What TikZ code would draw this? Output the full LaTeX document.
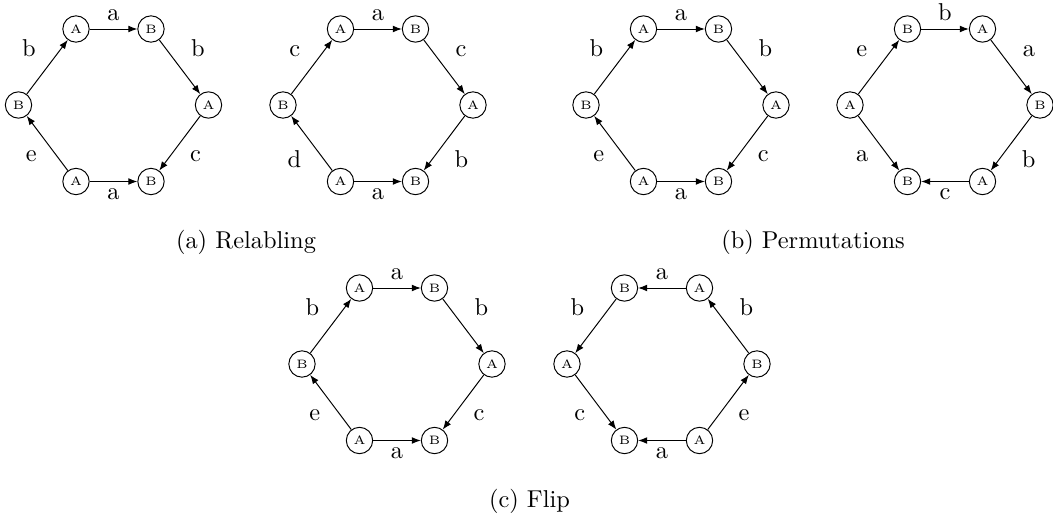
\documentclass[tikz,border=0pt]{standalone}
\usetikzlibrary{arrows.meta}
\tikzset{
  st/.style={circle,draw,minimum size=10.8pt,inner sep=0pt,font=\tiny},
  arr/.style={-{Latex[length=3.7pt,width=2.8pt]},line width=0.4pt},
  lab/.style={inner sep=0pt,font=\normalsize},
  lt/.style={lab,anchor=south,shift={(0,-8)}},
  lb/.style={lab,anchor=north,shift={(0,7)}},
  lul/.style={lab,anchor=south east,shift={(-11,-10)}},
  lur/.style={lab,anchor=south west,shift={(11,-10)}},
  lll/.style={lab,anchor=north east,shift={(-10,7)}},
  llr/.style={lab,anchor=north west,shift={(10,7)}},
  captxt/.style={font=\normalsize,inner sep=0pt}
}
\begin{document}
\begin{tikzpicture}[x=0.41pt,y=-0.41pt]
\useasboundingbox (0,0) rectangle (1053,517);
% Hex 1
\node[st] (aTL) at (76,29) {A};
\node[st] (aTR) at (151,29) {B};
\node[st] (aL) at (18.5,105) {B};
\node[st] (aR) at (208.5,105) {A};
\node[st] (aBL) at (76,181.5) {A};
\node[st] (aBR) at (151,181.5) {B};
\draw[arr] (aTL) -- node[lt] {a} (aTR);
\draw[arr] (aTR) -- node[lur] {b} (aR);
\draw[arr] (aR) -- node[llr] {c} (aBR);
\draw[arr] (aBL) -- node[lb] {a} (aBR);
\draw[arr] (aBL) -- node[lll] {e} (aL);
\draw[arr] (aL) -- node[lul] {b} (aTL);
% Hex 2
\node[st] (bTL) at (340.5,29) {A};
\node[st] (bTR) at (415.5,29) {B};
\node[st] (bL) at (283,105) {B};
\node[st] (bR) at (473,105) {A};
\node[st] (bBL) at (340.5,181.5) {A};
\node[st] (bBR) at (415.5,181.5) {B};
\draw[arr] (bTL) -- node[lt] {a} (bTR);
\draw[arr] (bTR) -- node[lur] {c} (bR);
\draw[arr] (bR) -- node[llr] {b} (bBR);
\draw[arr] (bBL) -- node[lb] {a} (bBR);
\draw[arr] (bBL) -- node[lll] {d} (bL);
\draw[arr] (bL) -- node[lul] {c} (bTL);
% Hex 3
\node[st] (cTL) at (643.5,29) {A};
\node[st] (cTR) at (718.5,29) {B};
\node[st] (cL) at (586,105) {B};
\node[st] (cR) at (776,105) {A};
\node[st] (cBL) at (643.5,181.5) {A};
\node[st] (cBR) at (718.5,181.5) {B};
\draw[arr] (cTL) -- node[lt] {a} (cTR);
\draw[arr] (cTR) -- node[lur] {b} (cR);
\draw[arr] (cR) -- node[llr] {c} (cBR);
\draw[arr] (cBL) -- node[lb] {a} (cBR);
\draw[arr] (cBL) -- node[lll] {e} (cL);
\draw[arr] (cL) -- node[lul] {b} (cTL);
% Hex 4
\node[st] (dTL) at (907.5,29) {B};
\node[st] (dTR) at (982.5,29) {A};
\node[st] (dL) at (850,105) {A};
\node[st] (dR) at (1040,105) {B};
\node[st] (dBL) at (907.5,181.5) {B};
\node[st] (dBR) at (982.5,181.5) {A};
\draw[arr] (dTL) -- node[lt] {b} (dTR);
\draw[arr] (dTR) -- node[lur] {a} (dR);
\draw[arr] (dR) -- node[llr] {b} (dBR);
\draw[arr] (dBR) -- node[lb] {c} (dBL);
\draw[arr] (dL) -- node[lll] {a} (dBL);
\draw[arr] (dL) -- node[lul] {e} (dTL);
% Hex 5
\node[st] (eTL) at (359.5,288) {A};
\node[st] (eTR) at (434.5,288) {B};
\node[st] (eL) at (302,364) {B};
\node[st] (eR) at (492,364) {A};
\node[st] (eBL) at (359.5,440.5) {A};
\node[st] (eBR) at (434.5,440.5) {B};
\draw[arr] (eTL) -- node[lt] {a} (eTR);
\draw[arr] (eTR) -- node[lur] {b} (eR);
\draw[arr] (eR) -- node[llr] {c} (eBR);
\draw[arr] (eBL) -- node[lb] {a} (eBR);
\draw[arr] (eBL) -- node[lll] {e} (eL);
\draw[arr] (eL) -- node[lul] {b} (eTL);
% Hex 6
\node[st] (fTL) at (624.5,288) {B};
\node[st] (fTR) at (699.5,288) {A};
\node[st] (fL) at (567,364) {A};
\node[st] (fR) at (757,364) {B};
\node[st] (fBL) at (624.5,440.5) {B};
\node[st] (fBR) at (699.5,440.5) {A};
\draw[arr] (fTR) -- node[lt] {a} (fTL);
\draw[arr] (fTL) -- node[lul] {b} (fL);
\draw[arr] (fL) -- node[lll] {c} (fBL);
\draw[arr] (fBR) -- node[lb] {a} (fBL);
\draw[arr] (fBR) -- node[llr] {e} (fR);
\draw[arr] (fR) -- node[lur] {b} (fTR);
% Captions
\node[captxt] (capa) at (246,242) {(a) Relabling};
\node[captxt] (capb) at (813,242) {(b) Permutations};
\node[captxt] (capc) at (529.5,501) {(c) Flip};
\end{tikzpicture}
\end{document}
